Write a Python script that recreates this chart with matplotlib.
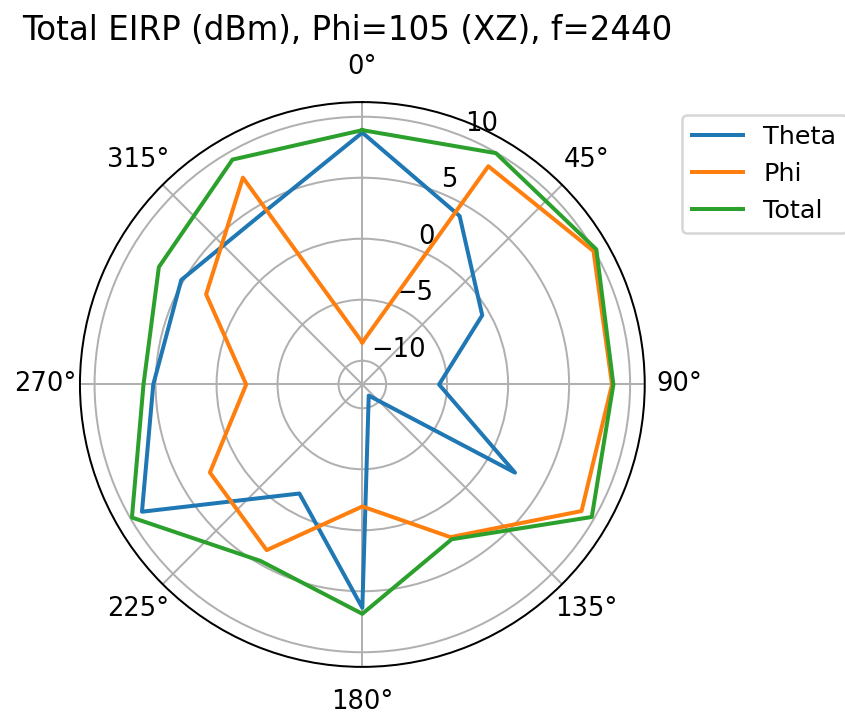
import numpy as np
import matplotlib
matplotlib.use("Agg")
import matplotlib.pyplot as plt

angles_deg = [0, 30, 60, 90, 120, 150, 180, 210, 240, 270, 300, 330]
theta_vals = [8.7, 4.0, -0.6, -5.66, 2.5, -10.9, 6.36, -1.63, 8.91, 5.19, 5.19, 4.3]
phi_vals = [-8.5, 8.71, 9.93, 8.52, 8.8, 2.5, -1.95, 3.73, 2.48, -2.43, 2.84, 7.63]
total_vals = [8.9, 9.95, 10.2, 8.63, 9.77, 2.7, 6.85, 4.75, 9.86, 5.99, 7.31, 9.34]

title = "Total EIRP (dBm), Phi=105 (XZ), f=2440"

dpi = 180
fig = plt.figure(figsize=(845 / dpi, 717 / dpi), dpi=dpi)
ax = fig.add_axes([0.0946, 0.0699, 0.6684, 0.7877], projection="polar")
ax.set_theta_zero_location("N")
ax.set_theta_direction(-1)

ang = np.deg2rad(angles_deg + [360])
def closed(v):
    return list(v) + [v[0]]

ax.plot(ang, closed(theta_vals), label="Theta", lw=1.6)
ax.plot(ang, closed(phi_vals), label="Phi", lw=1.6)
ax.plot(ang, closed(total_vals), label="Total", lw=1.6)

ax.set_ylim(-11.95, 11.2)
ax.set_yticks([-10, -5, 0, 5, 10])
ax.tick_params(labelsize=10.3)

ax.legend(loc="upper left", bbox_to_anchor=(1.043, 1.0), fontsize=10.2)
fig.text(347 / 845, 1 - 30 / 717, title, ha="center", va="center", fontsize=13)

fig.savefig("out.png", dpi=dpi)
